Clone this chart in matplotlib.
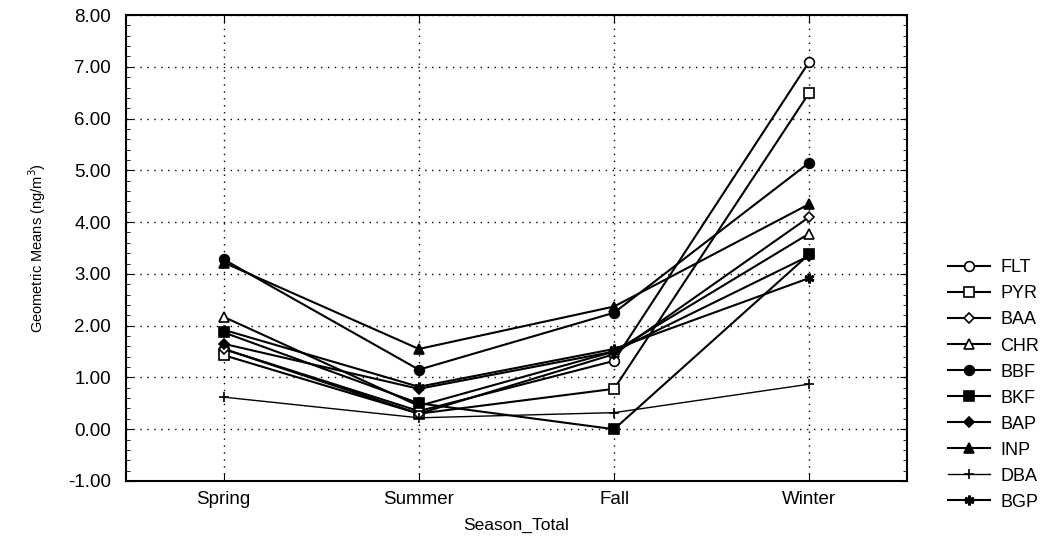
import matplotlib
matplotlib.use("Agg")
import matplotlib.pyplot as plt
from matplotlib.ticker import MultipleLocator, FormatStrFormatter

plt.rcParams['font.family'] = ['Liberation Sans', 'DejaVu Sans']

seasons = ["Spring", "Summer", "Fall", "Winter"]
FLT = [1.55, 0.35, 1.32, 7.10]
PYR = [1.43, 0.30, 0.78, 6.50]
BAA = [1.55, 0.30, 1.45, 4.10]
CHR = [2.17, 0.45, 1.50, 3.78]
BBF = [3.28, 1.15, 2.25, 5.15]
BKF = [1.87, 0.50, 0.00, 3.38]
BAP = [1.65, 0.78, 1.50, 3.35]
INP = [3.22, 1.55, 2.37, 4.35]
DBA = [0.62, 0.22, 0.32, 0.87]
BGP = [1.92, 0.82, 1.55, 2.92]

series = [
    ("FLT", FLT, dict(marker='o', mfc='white')),
    ("PYR", PYR, dict(marker='s', mfc='white')),
    ("BAA", BAA, dict(marker='D', mfc='white', ms=5.5)),
    ("CHR", CHR, dict(marker='^', mfc='white')),
    ("BBF", BBF, dict(marker='o', mfc='black')),
    ("BKF", BKF, dict(marker='s', mfc='black')),
    ("BAP", BAP, dict(marker='D', mfc='black', ms=5.5)),
    ("INP", INP, dict(marker='^', mfc='black')),
    ("DBA", DBA, dict(marker='+', mfc='black', lw=1.0)),
    ("BGP", BGP, dict(marker=(6, 2, 0), mfc='black', mew=2.0)),
]

fig = plt.figure(figsize=(10.46, 5.38), dpi=100)
ax = fig.add_axes([0.1205, 0.106, 0.7465, 0.866])

x = list(range(len(seasons)))
handles = []
for name, vals, st in series:
    kw = dict(color='black', lw=1.5, ms=7, mec='black', mew=1.2)
    kw.update(st)
    h, = ax.plot(x, vals, label=name, **kw)
    handles.append(h)

ax.set_xlim(-0.5, 3.5)
ax.set_ylim(-1, 8)
ax.set_xticks(x)
ax.set_xticklabels(seasons)
ax.yaxis.set_major_locator(MultipleLocator(1))
ax.yaxis.set_minor_locator(MultipleLocator(0.2))
ax.yaxis.set_major_formatter(FormatStrFormatter('%.2f'))
ax.tick_params(axis='both', which='both', direction='in', labelsize=13.5, colors='black')
ax.tick_params(axis='y', which='major', length=5, right=True, pad=11)
ax.tick_params(axis='y', which='minor', length=3, right=True)
ax.tick_params(axis='x', which='major', length=6, top=True, pad=7)
ax.grid(True, which='major', color='black', linestyle=(0, (1, 4)), linewidth=1.0)
for s in ax.spines.values():
    s.set_linewidth(1.5)

ax.set_xlabel("Season_Total", fontsize=12.5, labelpad=7)
ax.set_ylabel("Geometric Means (ng/m$^3$)", fontsize=10.5, labelpad=14)

leg = fig.legend(handles=handles, loc='upper left', bbox_to_anchor=(0.891, 0.548),
                 frameon=False, fontsize=13, handlelength=2.3, labelspacing=0.5,
                 handletextpad=0.6)

fig.savefig("out.png", dpi=100)
